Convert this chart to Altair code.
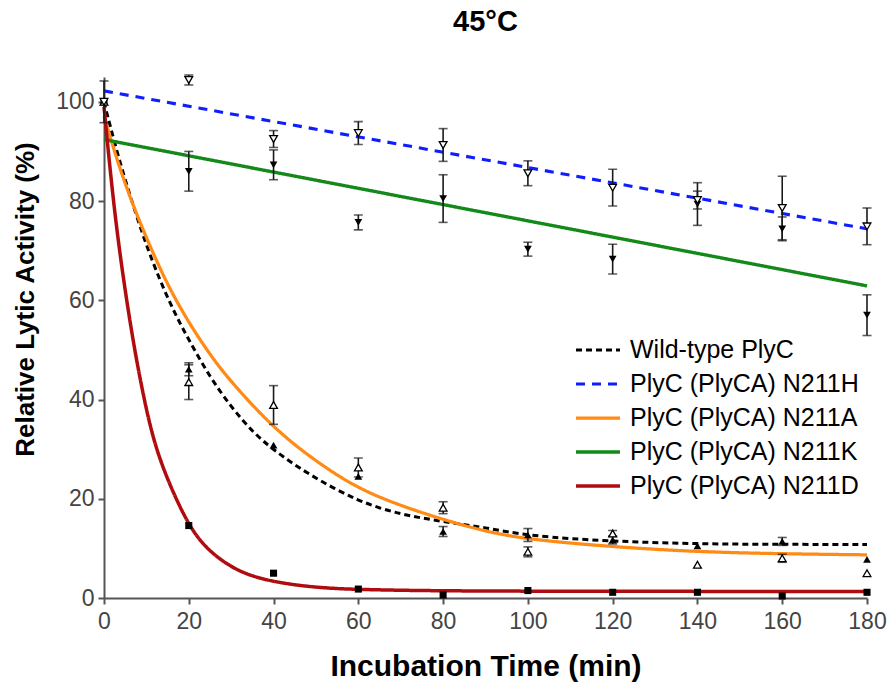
import altair as alt
import pandas as pd

# ---------------- data ----------------
times = [0, 20, 40, 60, 80, 100, 120, 140, 160, 180]
series_names = ["Wild-type PlyC", "PlyC (PlyCA) N211H", "PlyC (PlyCA) N211A",
                "PlyC (PlyCA) N211K", "PlyC (PlyCA) N211D"]
line_colors = ["#000000", "#0f1eff", "#ff8a14", "#13891a", "#b00c10"]
line_dashes = [[6, 4], [9, 7], [1, 0], [1, 0], [1, 0]]
line_widths = [3, 3.5, 3, 3, 3]

# measured points
wt_vals = [100, 46.1, 30.8, 24.5, 13.4, 12.7, 11.7, 10.5, 11.4, 7.8]
wt_errs = [0, 1.3, 0, 0, 1.0, 1.3, 0.8, 0, 0.8, 0]
h_vals = [100, 104.4, 92.5, 93.7, 91.3, 85.6, 82.7, 80.2, 78.6, 74.9]
h_errs = [4.2, 1.0, 1.7, 2.3, 3.3, 2.5, 3.7, 1.8, 6.4, 3.7]
a_vals = [100, 43.5, 38.9, 26.3, 18.2, 9.3, 13.0, 6.7, 8.0, 5.0]
a_errs = [0, 3.5, 3.9, 1.9, 1.2, 1.0, 0.6, 0, 0.8, 0]
k_vals = [100, 86.0, 87.3, 75.7, 80.5, 70.3, 68.3, 79.4, 74.4, 57.0]
k_errs = [0, 4.0, 3.0, 1.5, 4.8, 1.4, 3.0, 4.3, 2.4, 4.1]
d_vals = [100, 14.6, 5.0, 1.8, 0.6, 1.5, 1.15, 1.15, 0.4, 1.15]

# fitted curves, points
wt_curve_t = [0, 3, 6, 9, 12, 16, 20, 25, 30, 35, 40, 48, 60, 70, 80, 90, 100, 120, 140, 160, 180]
wt_curve_v = [100, 90, 81.5, 73.5, 66.5, 58.5, 52, 44.5, 38.5, 33.5, 29.8, 25, 19.4, 16.8, 15.4, 14.2, 12.5, 11.4, 10.9, 10.8, 10.8]
h_curve_t = [0, 180]
h_curve_v = [102.2, 74.4]
a_curve_t = [0, 3, 6, 10, 15, 20, 25, 30, 40, 50, 60, 70, 80, 90, 100, 120, 140, 160, 180]
a_curve_v = [97, 88.5, 81, 72.5, 63, 55.5, 49, 43.5, 34.2, 27.5, 22, 18.6, 15.8, 13.4, 11.8, 10.3, 9.3, 8.9, 8.7]
k_curve_t = [0, 180]
k_curve_v = [92.4, 62.9]
d_curve_t = [0, 2.6, 6, 8.5, 11.6, 15.6, 20, 24, 30, 36, 44, 52, 60, 80, 120, 180]
d_curve_v = [99, 76, 56, 44, 31.5, 22.5, 14.6, 10.0, 6.1, 4.0, 2.7, 2.0, 1.7, 1.4, 1.35, 1.3]

# ---------------- tables ----------------
curve_df = pd.concat([
    pd.DataFrame({"t": wt_curve_t, "v": wt_curve_v, "series": series_names[0]}),
    pd.DataFrame({"t": h_curve_t, "v": h_curve_v, "series": series_names[1]}),
    pd.DataFrame({"t": a_curve_t, "v": a_curve_v, "series": series_names[2]}),
    pd.DataFrame({"t": k_curve_t, "v": k_curve_v, "series": series_names[3]}),
    pd.DataFrame({"t": d_curve_t, "v": d_curve_v, "series": series_names[4]}),
], ignore_index=True)

def pts(vals, errs, name):
    df = pd.DataFrame({"t": times, "v": vals, "err": errs})
    df["lo"] = df["v"] - df["err"]
    df["hi"] = df["v"] + df["err"]
    df["series"] = name
    return df

wt_df = pts(wt_vals, wt_errs, series_names[0])
h_df = pts(h_vals, h_errs, series_names[1])
a_df = pts(a_vals, a_errs, series_names[2])
k_df = pts(k_vals, k_errs, series_names[3])
d_df = pts(d_vals, [0] * len(times), series_names[4])
err_df = pd.concat([wt_df, h_df, a_df, k_df], ignore_index=True)
err_df = err_df[err_df["err"] > 0]

FONT = "Liberation Sans, Arial, sans-serif"

xscale = alt.Scale(domain=[0, 180], nice=False, zero=False)
yscale = alt.Scale(domain=[0, 105], nice=False)

x_enc = alt.X("t:Q", scale=xscale, axis=alt.Axis(
    values=times, title="Incubation Time (min)", grid=False,
    titleFontSize=30, titleFontWeight="bold", titleColor="#000000",
    titleY=77, titleBaseline="alphabetic",
    labelFontSize=23, labelColor="#444444", labelPadding=6,
    tickSize=6, tickColor="#555555", tickWidth=2,
    domainColor="#555555", domainWidth=2, labelFlush=False))
y_enc = alt.Y("v:Q", scale=yscale, axis=alt.Axis(
    values=[0, 20, 40, 60, 80, 100], title="Relative Lytic Activity (%)", grid=False,
    titleFontSize=26, titleFontWeight="bold", titleColor="#000000",
    titleX=-79, titleY=222, titleBaseline="middle", titleAngle=270,
    labelFontSize=23, labelColor="#444444", labelPadding=4,
    tickSize=6, tickColor="#555555", tickWidth=2,
    domainColor="#555555", domainWidth=2))

leg = alt.Legend(
    title=None, orient="none", legendX=470, legendY=256, padding=0,
    symbolType="stroke", symbolSize=1936, symbolStrokeWidth=3,
    clipHeight=34, rowPadding=0, labelFontSize=25, labelColor="#000000",
    labelFont=FONT, labelOffset=8, labelLimit=400)

curves = alt.Chart(curve_df).mark_line(interpolate="basis").encode(
    x=x_enc, y=y_enc,
    color=alt.Color("series:N", scale=alt.Scale(domain=series_names, range=line_colors), legend=leg, sort=series_names),
    strokeDash=alt.StrokeDash("series:N", scale=alt.Scale(domain=series_names, range=line_dashes), legend=leg, sort=series_names),
    strokeWidth=alt.StrokeWidth("series:N", scale=alt.Scale(domain=series_names, range=line_widths), legend=None),
)

rules = alt.Chart(err_df).mark_rule(color="#1a1a1a", strokeWidth=1.6).encode(
    x="t:Q", y="lo:Q", y2="hi:Q")
cap_lo = alt.Chart(err_df).mark_tick(orient="horizontal", size=9, thickness=1.6, color="#1a1a1a").encode(
    x="t:Q", y="lo:Q")
cap_hi = alt.Chart(err_df).mark_tick(orient="horizontal", size=9, thickness=1.6, color="#1a1a1a").encode(
    x="t:Q", y="hi:Q")

def marker(df, shape, filled, size=60):
    if filled:
        m = alt.Chart(df).mark_point(shape=shape, filled=True, color="#000000", size=size, opacity=1)
    else:
        m = alt.Chart(df).mark_point(shape=shape, filled=True, fill="#ffffff", stroke="#000000",
                                     strokeWidth=1.3, size=size, opacity=1)
    return m.encode(x="t:Q", y="v:Q")

m_wt = marker(wt_df, "triangle-up", True)
m_a = marker(a_df, "triangle-up", False)
m_h = marker(h_df, "triangle-down", False)
m_k = marker(k_df, "triangle-down", True)
m_d = marker(d_df, "square", True, 50)

chart = alt.layer(curves, rules, cap_lo, cap_hi, m_d, m_wt, m_a, m_k, m_h).properties(
    width=763, height=521,
    title=alt.TitleParams(text="45°C", fontSize=29, fontWeight="bold", font=FONT,
                          anchor="middle", offset=37),
    autosize=alt.AutoSizeParams(type="none"),
    padding={"left": 104, "top": 77, "right": 23, "bottom": 89},
).configure(font=FONT).configure_view(stroke=None).configure_axis(labelFont=FONT, titleFont=FONT)

chart.save("out.html", embed_options={"renderer": "svg", "actions": False})
